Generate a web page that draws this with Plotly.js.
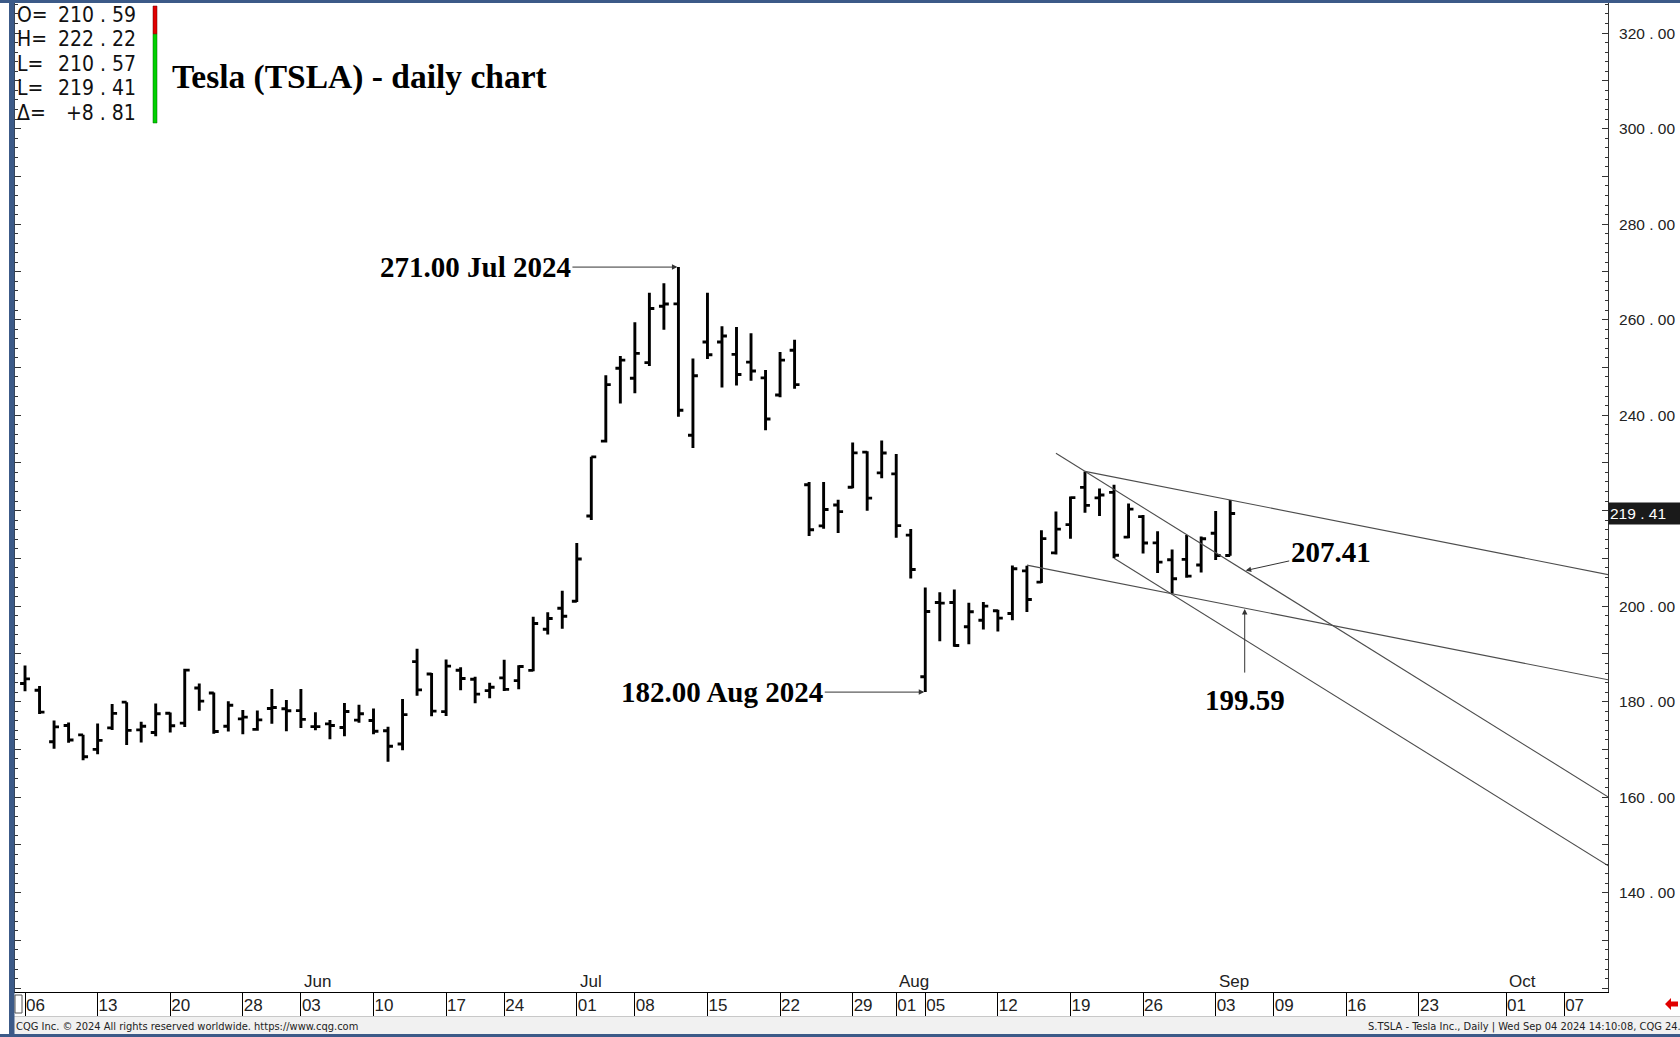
<!DOCTYPE html>
<html><head><meta charset="utf-8">
<script src="https://cdn.plot.ly/plotly-3.0.1.min.js"></script>
<style>html,body{margin:0;padding:0;background:#fff;overflow:hidden}#chart{width:1680px;height:1037px}</style>
</head><body><div id="chart"></div>
<script>
// ---------------- data ----------------
const dates = [
 '2024-05-06','2024-05-07','2024-05-08','2024-05-09','2024-05-10','2024-05-13','2024-05-14','2024-05-15','2024-05-16','2024-05-17',
 '2024-05-20','2024-05-21','2024-05-22','2024-05-23','2024-05-24','2024-05-28','2024-05-29','2024-05-30','2024-05-31',
 '2024-06-03','2024-06-04','2024-06-05','2024-06-06','2024-06-07','2024-06-10','2024-06-11','2024-06-12','2024-06-13','2024-06-14',
 '2024-06-17','2024-06-18','2024-06-20','2024-06-21','2024-06-24','2024-06-25','2024-06-26','2024-06-27','2024-06-28',
 '2024-07-01','2024-07-02','2024-07-03','2024-07-05','2024-07-08','2024-07-09','2024-07-10','2024-07-11','2024-07-12',
 '2024-07-15','2024-07-16','2024-07-17','2024-07-18','2024-07-19','2024-07-22','2024-07-23','2024-07-24','2024-07-25','2024-07-26',
 '2024-07-29','2024-07-30','2024-07-31','2024-08-01','2024-08-02','2024-08-05','2024-08-06','2024-08-07','2024-08-08','2024-08-09',
 '2024-08-12','2024-08-13','2024-08-14','2024-08-15','2024-08-16','2024-08-19','2024-08-20','2024-08-21','2024-08-22','2024-08-23',
 '2024-08-26','2024-08-27','2024-08-28','2024-08-29','2024-08-30','2024-09-03','2024-09-04'];
const openP = [
 183.80,182.40,171.59,175.01,173.05,170.00,174.50,179.90,174.10,173.55,
 177.56,175.51,182.85,181.80,174.84,176.40,174.19,178.58,178.50,
 178.13,174.78,175.35,174.60,176.13,176.06,173.92,171.12,188.39,185.80,
 177.92,186.56,184.68,182.30,184.97,184.40,186.54,195.17,199.55,
 201.02,218.89,234.56,249.81,247.71,251.00,262.80,263.30,235.80,
 255.31,255.31,252.73,251.09,247.79,244.21,253.60,225.42,216.80,221.19,
 224.90,232.25,227.90,227.69,214.88,185.22,200.75,200.77,195.70,197.05,
 199.02,198.47,207.39,205.02,211.15,217.07,224.88,222.67,223.82,214.46,
 218.75,213.25,209.72,209.80,208.63,215.26,210.59];
const highP = [
 187.56,183.26,176.06,175.62,173.06,175.40,179.49,179.90,175.79,179.63,
 177.75,186.88,183.80,181.90,180.08,178.25,178.15,182.67,180.32,
 182.64,177.76,176.15,179.73,179.35,178.57,174.75,180.55,191.08,186.00,
 188.81,187.20,185.21,183.95,188.80,187.60,197.76,198.72,203.20,
 213.23,231.30,248.35,252.37,259.44,265.61,267.59,271.00,251.84,
 265.60,258.62,258.47,257.14,249.44,253.21,255.76,225.99,226.00,222.28,
 234.27,232.41,234.68,231.87,216.13,203.88,202.90,203.49,200.70,200.88,
 199.26,208.49,208.44,215.88,219.80,222.98,228.22,224.66,225.41,221.48,
 219.09,215.66,211.84,214.89,214.57,219.90,222.22];
const lowP = [
 182.20,177.40,170.15,171.37,167.75,169.00,174.07,170.90,171.43,172.75,
 173.52,174.71,178.12,173.26,173.73,173.16,173.93,175.38,173.82,
 174.49,174.00,172.13,172.73,175.58,173.17,167.41,169.80,181.23,176.92,
 177.00,182.37,179.66,180.69,182.21,182.60,186.36,194.05,195.26,
 200.85,218.06,234.25,242.46,244.57,250.30,257.86,239.65,233.09,
 251.73,245.80,246.18,247.20,236.83,243.75,245.50,214.71,216.23,215.33,
 224.70,220.00,226.79,214.33,205.78,182.00,192.67,191.48,192.04,195.11,
 194.67,197.06,198.75,204.82,210.80,214.09,219.56,218.86,210.03,214.21,
 211.01,206.94,202.59,205.97,207.03,209.64,210.57];
const closeP = [
 184.76,177.81,174.72,171.97,168.47,171.89,177.55,173.99,174.84,177.46,
 174.95,186.60,180.11,173.74,179.24,176.75,176.19,178.79,178.08,
 176.29,174.77,175.00,177.94,177.48,173.79,170.66,177.29,182.47,178.01,
 187.44,184.86,181.57,183.01,182.58,187.35,196.37,197.42,197.88,
 209.86,231.26,246.39,251.52,252.94,262.33,263.26,241.03,248.23,
 252.64,256.56,248.50,249.23,239.20,251.51,246.38,215.99,220.25,219.80,
 232.10,222.62,232.07,216.86,207.67,198.88,200.64,191.76,198.84,200.00,
 197.49,207.83,201.38,214.14,216.12,222.72,221.10,223.27,210.66,220.32,
 213.21,209.21,205.75,206.28,214.11,210.60,219.41];

const holidays = ['2024-05-27','2024-06-19','2024-07-04','2024-09-02'];
const tickDates = ['2024-05-06','2024-05-13','2024-05-20','2024-05-28','2024-06-03','2024-06-10','2024-06-17','2024-06-24',
 '2024-07-01','2024-07-08','2024-07-15','2024-07-22','2024-07-29','2024-08-01','2024-08-05','2024-08-12','2024-08-19',
 '2024-08-26','2024-09-03','2024-09-09','2024-09-16','2024-09-23','2024-10-01','2024-10-07'];
const monthLabels = ['Jun','Jul','Aug','Sep','Oct'];
const monthStarts = ['2024-06-03','2024-07-01','2024-08-01','2024-09-03','2024-10-01'];

// trend lines: [start date, anchor1 date, anchor1 price, anchor2 date, anchor2 price]
const lineStart  = ['2024-08-20','2024-08-16','2024-08-22','2024-08-14'];
const lineA1Date = ['2024-08-20','2024-08-20','2024-08-22','2024-08-28'];
const lineA1Val  = [228.22, 228.22, 210.03, 202.59];
const lineA2Date = ['2024-09-04','2024-09-05','2024-09-05','2024-09-05'];
const lineA2Val  = [222.22, 207.41, null, 199.59];   // line 3 is parallel to line 2
const yTickVals = [120,130,140,150,160,170,180,190,200,210,220,230,240,250,260,270,280,290,300,310,320];

// ---------------- helpers ----------------
const ymd = d => d.toISOString().slice(0,10);
const calendar = [];
for (let d = new Date(Date.UTC(2024,4,6)); d <= new Date(Date.UTC(2024,9,20)); d.setUTCDate(d.getUTCDate()+1)) {
  const wd = d.getUTCDay(), s = ymd(d);
  if (wd === 0 || wd === 6 || holidays.includes(s)) continue;
  calendar.push(s);
}
const idx = s => calendar.indexOf(s);
const xs = dates.map(idx);
const fmt = v => v.toFixed(2).replace('.', ' . ');

const W = 1680, H = 1037, L = 15, R = 1608, T = 3, B = 992;
const fx = p => (p - L) / (R - L);
const fy = p => (B - p) / (B - T);

const NARROW = '"Liberation Sans Narrow","Arial Narrow","DejaVu Sans Condensed","Liberation Sans",Arial,sans-serif';
const SANS = '"Liberation Sans",Arial,sans-serif';
const SERIF = '"Liberation Serif","Times New Roman",serif';

// ---------------- traces ----------------
const traces = [{
  type: 'ohlc', x: xs, open: openP, high: highP, low: lowP, close: closeP,
  increasing: {line: {color: '#000', width: 2.9}},
  decreasing: {line: {color: '#000', width: 2.9}},
  tickwidth: 0.34, hoverinfo: 'none', showlegend: false
}];

const slopes = [];
for (let i = 0; i < 4; i++) {
  let s;
  if (lineA2Val[i] === null) s = slopes[i-1];
  else s = (lineA2Val[i] - lineA1Val[i]) / (idx(lineA2Date[i]) - idx(lineA1Date[i]));
  slopes.push(s);
  const x0 = idx(lineStart[i]), x1 = 112;
  const a = idx(lineA1Date[i]), v = lineA1Val[i];
  traces.push({type: 'scatter', mode: 'lines', x: [x0, x1], y: [v + s*(x0-a), v + s*(x1-a)],
    line: {color: '#4d4d4d', width: 1.1}, hoverinfo: 'none', showlegend: false});
}

// ---------------- annotations ----------------
const ann = [];
const n = dates.length - 1;
const legLabels = ['O=','H=','L=','L=','\u0394='];
const chg = closeP[n] - closeP[n-1];
const legVals = [fmt(openP[n]), fmt(highP[n]), fmt(lowP[n]), fmt(closeP[n]), (chg >= 0 ? '+' : '') + fmt(chg)];
legLabels.forEach((t, i) => {
  const py = 15 + i*24.4;
  ann.push({xref:'paper', yref:'paper', x: fx(15), y: fy(py), xanchor:'left', yanchor:'middle', text: t, showarrow:false,
    font:{family: NARROW, size: 21, color:'#111'}});
  ann.push({xref:'paper', yref:'paper', x: fx(138), y: fy(py), xanchor:'right', yanchor:'middle', text: legVals[i], showarrow:false,
    font:{family: NARROW, size: 21, color:'#111'}});
});
ann.push({xref:'paper', yref:'paper', x: fx(170), y: fy(77), xanchor:'left', yanchor:'middle',
  text: 'Tesla (TSLA) - daily chart', showarrow:false, font:{family: SERIF, size: 33.5, color:'#000', weight: 700}});

const hiI = highP.indexOf(Math.max(...highP));
const loI = lowP.indexOf(Math.min(...lowP.slice(40)), 40);
const annFont = {family: SERIF, size: 29, color:'#000', weight: 700};
const arrowStyle = {showarrow:true, arrowhead:2, arrowsize:1.1, arrowwidth:1, arrowcolor:'#333', standoff:1};
ann.push(Object.assign({x: xs[hiI], y: highP[hiI], xref:'x', yref:'y', ax:-203, ay:0,
  text: highP[hiI].toFixed(2) + ' Jul 2024', font: annFont}, arrowStyle));
ann.push(Object.assign({x: xs[loI], y: lowP[loI], xref:'x', yref:'y', ax:-203, ay:0,
  text: lowP[loI].toFixed(2) + ' Aug 2024', font: annFont}, arrowStyle));
ann.push(Object.assign({x: idx(lineA2Date[1]), y: lineA2Val[1], xref:'x', yref:'y', ax:86, ay:-19,
  text: lineA2Val[1].toFixed(2), font: annFont}, arrowStyle));
ann.push(Object.assign({x: idx(lineA2Date[3]), y: lineA2Val[3], xref:'x', yref:'y', ax:0, ay:92, startstandoff: 10,
  text: lineA2Val[3].toFixed(2), font: annFont}, arrowStyle));

// month labels
monthLabels.forEach((m, i) => ann.push({xref:'x', yref:'paper', x: idx(monthStarts[i]), y: fy(981), xanchor:'left', yanchor:'middle',
  xshift: 1, text: m, showarrow:false, font:{family: SANS, size: 17, color:'#222'}}));

// last price box
ann.push({xref:'paper', yref:'y', x: 1, y: closeP[n], xanchor:'left', yanchor:'middle', text: fmt(closeP[n]),
  showarrow:false, bgcolor:'#1a1a1a', width: 70, height: 19, align:'left', borderpad: 1,
  font:{family: SANS, size: 15.5, color:'#fff'}});

// footer texts
ann.push({xref:'paper', yref:'paper', x: fx(14), y: fy(1026), xanchor:'left', yanchor:'middle', showarrow:false,
  text:'CQG Inc. \u00a9 2024 All rights reserved worldwide. https://www.cqg.com', font:{family: NARROW, size: 11, color:'#222'}});
ann.push({xref:'paper', yref:'paper', x: fx(1366), y: fy(1026), xanchor:'left', yanchor:'middle', showarrow:false,
  text:'S.TSLA - Tesla Inc., Daily | Wed Sep 04 2024 14:10:08, CQG 24.12.8079', font:{family: NARROW, size: 11, color:'#222'}});

// ---------------- shapes ----------------
const BLUE = '#3c5a88';
const rectPx = (x0, y0, x1, y1, fill, line) => ({type:'rect', xref:'paper', yref:'paper',
  x0: fx(x0), x1: fx(x1), y0: fy(y1), y1: fy(y0), fillcolor: fill, line: line || {width: 0}, layer:'above'});
const shapes = [
  rectPx(9, 1016, 1680, 1034, '#f1f1f1', {width: 0}),
  {type:'line', xref:'paper', yref:'paper', x0: fx(14), x1: fx(1680), y0: fy(1016.5), y1: fy(1016.5), line:{color:'#c8c8c8', width:1}},
  rectPx(0, 0, 1680, 3, BLUE),
  rectPx(0, 1034, 1680, 1037, BLUE),
  rectPx(9, 0, 14.5, 1037, BLUE),
  rectPx(15, 995, 22, 1013, '#fff', {color:'#555', width:1}),
];
// OHLC legend colour bar
const barTop = 6, barBot = 123;
const redH = (highP[n] - closeP[n]) / (highP[n] - lowP[n]) * (barBot - barTop);
shapes.push(rectPx(153, barTop, 157, barTop + redH, '#e00000', {color:'#600', width:0.5}));
shapes.push(rectPx(153, barTop + redH, 157, barBot, '#00d000', {color:'#060', width:0.5}));
// red arrow bottom right
const ap = [[1665,1004],[1671,998],[1671,1001.5],[1678,1001.5],[1678,1006.5],[1671,1006.5],[1671,1010]];
shapes.push({type:'path', xref:'paper', yref:'paper', fillcolor:'#e00000', line:{width:0}, layer:'above',
  path: 'M' + ap.map(p => fx(p[0]) + ',' + fy(p[1])).join(' L') + ' Z'});

// ---------------- layout ----------------
const layout = {
  width: W, height: H, margin: {l: L, r: W - R, t: T, b: H - B},
  paper_bgcolor: '#fff', plot_bgcolor: '#fff', showlegend: false,
  xaxis: {range: [-0.69, 109.02], rangeslider: {visible: false}, showgrid: false, zeroline: false,
    showline: true, linecolor: '#000', linewidth: 1,
    tickvals: tickDates.map(idx), ticktext: tickDates.map(d => d.slice(8)),
    ticks: 'outside', ticklen: 23, tickcolor: '#000', tickwidth: 1, tickangle: 0,
    ticklabelposition: 'outside right', ticklabelstandoff: -2,
    tickfont: {family: SANS, size: 17, color: '#222'}, fixedrange: true},
  yaxis: {side: 'right', range: [119.2, 326.3], showgrid: false, zeroline: false,
    showline: true, linecolor: '#333', linewidth: 1, mirror: 'ticks',
    tickvals: yTickVals, ticktext: yTickVals.map(v => (v % 20 === 0 && v >= 140) ? fmt(v) : ''),
    ticks: 'inside', ticklen: 6, tickcolor: '#333', tickwidth: 1,
    minor: {dtick: 2, ticks: 'inside', ticklen: 3, tickcolor: '#333', tickwidth: 1},
    ticklabelstandoff: 7,
    tickfont: {family: SANS, size: 15.5, color: '#222'}, fixedrange: true},
  annotations: ann, shapes: shapes
};
Plotly.newPlot('chart', traces, layout, {staticPlot: true, displayModeBar: false});
</script></body></html>
